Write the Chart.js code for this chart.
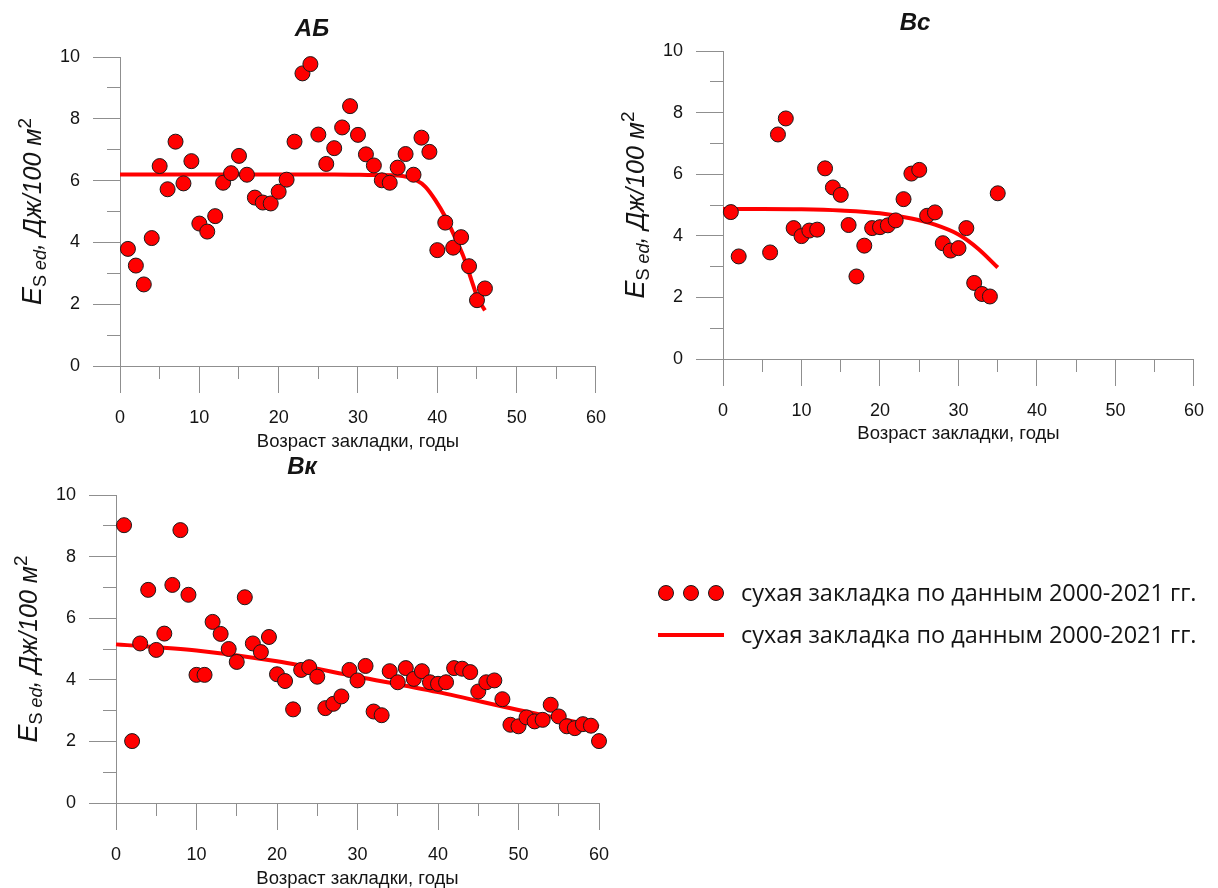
<!DOCTYPE html>
<html lang="ru">
<head>
<meta charset="utf-8">
<title>Es ed</title>
<script src="https://cdn.jsdelivr.net/npm/chart.js@4.4.1/dist/chart.umd.min.js"></script>
<style>
  html, body { margin: 0; padding: 0; background: #fff; }
  body { width: 1218px; height: 888px; position: relative; overflow: hidden; }
  .box { position: absolute; }
</style>
</head>
<body>
<div class="box" style="left:0;top:0;width:620px;height:455px"><canvas id="chartAB"></canvas></div>
<div class="box" style="left:610px;top:0;width:608px;height:450px"><canvas id="chartBc"></canvas></div>
<div class="box" style="left:0;top:450px;width:1218px;height:438px"><canvas id="chartBk"></canvas></div>

<script>
// ---- data ----
const abAge = [1, 2, 3, 4, 5, 6, 7, 8, 9, 10, 11, 12, 13, 14, 15, 16, 17, 18, 19, 20, 21, 22, 23,
  24, 25, 26, 27, 28, 29, 30, 31, 32, 33, 34, 35, 36, 37, 38, 39, 40, 41, 42, 43, 44, 45, 46];
const abEs = [3.79, 3.25, 2.64, 4.14, 6.47, 5.72, 7.26, 5.91, 6.63, 4.61, 4.35, 4.85, 5.93, 6.24,
  6.8, 6.19, 5.45, 5.29, 5.26, 5.64, 6.03, 7.26, 9.47, 9.77, 7.49, 6.54, 7.05, 7.72, 8.41, 7.48,
  6.85, 6.49, 6.01, 5.93, 6.42, 6.86, 6.19, 7.39, 6.93, 3.75, 4.64, 3.83, 4.17, 3.23, 2.13, 2.51];
const abFitAge = [0, 10, 20, 27, 32, 35.6, 37.3, 38.5, 39.75, 41, 42.2, 43.3, 44.3, 45.1, 46];
const abFitEs = [6.2, 6.2, 6.2, 6.2, 6.18, 6.15, 6.02, 5.8, 5.37, 4.83, 4.18, 3.54, 2.78, 2.19, 1.8];

const bcAge = [1, 2, 6, 7, 8, 9, 10, 11, 12, 13, 14, 15, 16, 17, 18, 19, 20, 21, 22, 23, 24, 25,
  26, 27, 28, 29, 30, 31, 32, 33, 34, 35];
const bcEs = [4.77, 3.33, 3.46, 7.29, 7.81, 4.25, 3.99, 4.17, 4.2, 6.19, 5.57, 5.33, 4.35, 2.68,
  3.68, 4.25, 4.28, 4.34, 4.5, 5.19, 6.02, 6.14, 4.65, 4.76, 3.76, 3.52, 3.6, 4.25, 2.47, 2.11, 2.03, 5.38];
const bcFitAge = [0, 5, 10, 15, 20, 24, 27, 30, 32.5, 35];
const bcFitEs = [4.87, 4.87, 4.86, 4.82, 4.73, 4.56, 4.36, 4.04, 3.58, 2.97];

const bkAge = [1, 2, 3, 4, 5, 6, 7, 8, 9, 10, 11, 12, 13, 14, 15, 16, 17, 18, 19, 20, 21, 22, 23,
  24, 25, 26, 27, 28, 29, 30, 31, 32, 33, 34, 35, 36, 37, 38, 39, 40, 41, 42, 43, 44, 45, 46, 47,
  48, 49, 50, 51, 52, 53, 54, 55, 56, 57, 58, 59, 60];
const bkEs = [9.02, 2.01, 5.18, 6.92, 4.97, 5.5, 7.08, 8.86, 6.76, 4.16, 4.16, 5.88, 5.49, 5.0,
  4.58, 6.68, 5.18, 4.9, 5.39, 4.18, 3.96, 3.04, 4.32, 4.41, 4.1, 3.08, 3.22, 3.46, 4.32, 3.98,
  4.45, 2.97, 2.85, 4.28, 3.92, 4.38, 4.03, 4.28, 3.92, 3.87, 3.92, 4.38, 4.36, 4.25, 3.62, 3.92,
  3.98, 3.37, 2.54, 2.49, 2.78, 2.65, 2.7, 3.19, 2.81, 2.49, 2.43, 2.56, 2.51, 2.01];
const bkFitAge = [0, 10, 20, 30, 40, 50, 60];
const bkFitEs = [5.15, 4.95, 4.6, 4.1, 3.6, 3.02, 2.48];

const xTickValues = [0, 10, 20, 30, 40, 50, 60];
const yTickValues = [0, 2, 4, 6, 8, 10];
const xMinorValues = [5, 15, 25, 35, 45, 55];
const yMinorValues = [1, 3, 5, 7, 9];

const seriesLabel = 'сухая закладка по данным 2000-2021 гг.';
const xAxisTitle = 'Возраст закладки, годы';

// ---- styles ----
const axisColor = '#8f8f8f';
const textColor = '#141414';
const red = '#ff0000';
const sans = '"Liberation Sans", Arial, sans-serif';
Chart.defaults.font.family = sans;

// y axis title with subscript / superscript parts
const yTitleParts = [
  { text: 'E', font: 'italic 27px ' + sans, dy: 9 },
  { text: 'S', font: '18px ' + sans, dy: 14 },
  { text: ' ed', font: 'italic 18px ' + sans, dy: 14 },
  { text: ', Дж/100 м', font: 'italic 25px ' + sans, dy: 9 },
  { text: '2', font: '19px ' + sans, dy: -1 }
];

function toXY(xs, ys) {
  return xs.map((v, i) => ({ x: v, y: ys[i] }));
}

function alignPx(p) {
  return Math.round(p - 0.5) + 0.5;
}

// minor ticks, panel title and the rotated y title
const decor = {
  id: 'decor',
  beforeDatasetsDraw(chart) {
    const { ctx, chartArea: a, scales: { x, y } } = chart;
    ctx.save();
    ctx.strokeStyle = axisColor;
    ctx.lineWidth = 1;
    ctx.beginPath();
    xMinorValues.forEach(v => {
      const px = alignPx(x.getPixelForValue(v));
      ctx.moveTo(px, a.bottom);
      ctx.lineTo(px, a.bottom + 13);
    });
    yMinorValues.forEach(v => {
      const py = alignPx(y.getPixelForValue(v));
      ctx.moveTo(a.left - 13, py);
      ctx.lineTo(a.left, py);
    });
    ctx.stroke();
    ctx.restore();
  },
  afterDraw(chart, args, opts) {
    const { ctx, chartArea: a } = chart;
    ctx.save();
    ctx.fillStyle = textColor;

    // panel title
    ctx.font = 'italic bold 24px ' + sans;
    ctx.textAlign = 'center';
    ctx.textBaseline = 'middle';
    ctx.fillText(opts.title, a.left + opts.titleDx, a.top - 28);

    // y title
    ctx.translate(a.left - 88, (a.top + a.bottom) / 2);
    ctx.rotate(-Math.PI / 2);
    ctx.textAlign = 'left';
    ctx.textBaseline = 'alphabetic';
    let total = 0;
    const widths = yTitleParts.map(p => {
      ctx.font = p.font;
      const w = ctx.measureText(p.text).width;
      total += w;
      return w;
    });
    let cx = -total / 2;
    yTitleParts.forEach((p, i) => {
      ctx.font = p.font;
      ctx.fillText(p.text, cx, p.dy);
      cx += widths[i];
    });
    ctx.restore();
  }
};

// legend of the figure, drawn on the bottom canvas
const figureLegend = {
  id: 'figureLegend',
  afterDraw(chart) {
    const ctx = chart.ctx;
    const ds = chart.data.datasets;
    ctx.save();
    // three dots
    ctx.fillStyle = red;
    ctx.strokeStyle = '#1a1a1a';
    ctx.lineWidth = 1;
    [666, 691, 716].forEach(cx => {
      ctx.beginPath();
      ctx.arc(cx, 143, 7.5, 0, Math.PI * 2);
      ctx.fill();
      ctx.stroke();
    });
    // line
    ctx.strokeStyle = red;
    ctx.lineWidth = 4;
    ctx.beginPath();
    ctx.moveTo(658, 185);
    ctx.lineTo(724, 185);
    ctx.stroke();
    // texts
    ctx.fillStyle = textColor;
    ctx.font = '23.5px "Open Sans", "Noto Sans", sans-serif';
    ctx.textAlign = 'left';
    ctx.textBaseline = 'middle';
    ctx.fillText(ds[0].label, 741, 144);
    ctx.fillText(ds[1].label, 741, 186);
    ctx.restore();
  }
};

function makeChart(id, cfg) {
  const W = cfg.width, H = cfg.height, area = cfg.area;
  const plugins = [decor];
  if (cfg.legend) plugins.push(figureLegend);

  return new Chart(document.getElementById(id), {
    type: 'scatter',
    data: {
      datasets: [
        {
          label: seriesLabel,
          data: toXY(cfg.age, cfg.es),
          showLine: false,
          pointRadius: 7.5,
          pointHoverRadius: 7.5,
          pointBackgroundColor: red,
          pointBorderColor: '#1a1a1a',
          pointBorderWidth: 1,
          backgroundColor: red,
          borderColor: '#1a1a1a',
          clip: false
        },
        {
          label: seriesLabel,
          data: toXY(cfg.fitAge, cfg.fitEs),
          showLine: true,
          pointRadius: 0,
          pointHoverRadius: 0,
          borderColor: red,
          backgroundColor: red,
          borderWidth: 4,
          cubicInterpolationMode: 'monotone',
          clip: false
        }
      ]
    },
    options: {
      responsive: true,
      maintainAspectRatio: false,
      animation: false,
      events: [],
      layout: { padding: { left: 0, top: area.top, right: W - area.right, bottom: 0 } },
      plugins: {
        legend: { display: false },
        tooltip: { enabled: false },
        decor: { title: cfg.title, titleDx: cfg.titleDx }
      },
      scales: {
        x: {
          type: 'linear',
          min: 0,
          max: 60,
          afterBuildTicks: s => { s.ticks = xTickValues.map(v => ({ value: v })); },
          afterFit: s => { s.height = H - area.bottom; },
          grid: { drawOnChartArea: false, drawTicks: true, tickLength: 27, color: axisColor, lineWidth: 1 },
          border: { display: true, color: axisColor, width: 1 },
          ticks: { padding: 14, color: textColor, font: { size: 18 }, maxRotation: 0, autoSkip: false },
          title: {
            display: true,
            text: xAxisTitle,
            color: textColor,
            font: { size: 18.5, lineHeight: 1 },
            padding: { top: 0, bottom: cfg.xTitlePad }
          }
        },
        y: {
          type: 'linear',
          min: 0,
          max: 10,
          afterBuildTicks: s => { s.ticks = yTickValues.map(v => ({ value: v })); },
          afterFit: s => { s.width = area.left; },
          grid: { drawOnChartArea: false, drawTicks: true, tickLength: 27, color: axisColor, lineWidth: 1 },
          border: { display: true, color: axisColor, width: 1 },
          ticks: { padding: 13, color: textColor, font: { size: 18 }, autoSkip: false }
        }
      }
    },
    plugins: plugins
  });
}

makeChart('chartAB', {
  title: 'АБ', titleDx: 192, age: abAge, es: abEs, fitAge: abFitAge, fitEs: abFitEs,
  width: 620, height: 455, area: { left: 120, right: 603, top: 57, bottom: 366 }, xTitlePad: 4
});
makeChart('chartBc', {
  title: 'Вс', titleDx: 192, age: bcAge, es: bcEs, fitAge: bcFitAge, fitEs: bcFitEs,
  width: 608, height: 450, area: { left: 113, right: 596, top: 51, bottom: 359 }, xTitlePad: 7
});
makeChart('chartBk', {
  title: 'Вк', titleDx: 186, age: bkAge, es: bkEs, fitAge: bkFitAge, fitEs: bkFitEs,
  width: 1218, height: 438, area: { left: 116, right: 599, top: 45, bottom: 353 }, xTitlePad: 0,
  legend: true
});
</script>
</body>
</html>
